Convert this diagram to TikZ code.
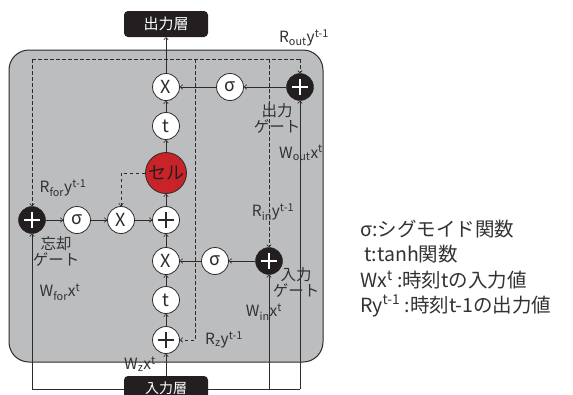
\documentclass[tikz,border=0pt]{standalone}
\usepackage{fontspec}
\setmainfont{Noto Sans CJK JP}
\usetikzlibrary{arrows.meta}
\definecolor{boxgray}{RGB}{188,189,191}
\definecolor{inkc}{RGB}{45,42,43}
\definecolor{layerc}{RGB}{35,31,32}
\definecolor{cellred}{RGB}{200,35,40}
\definecolor{labc}{RGB}{50,50,50}
\tikzset{
  x=1pt, y=-1pt,
  wnode/.style={circle, draw=inkc, fill=white, line width=0.8pt, minimum size=27pt, inner sep=0pt, text=inkc, font=\fontsize{18}{18}\selectfont},
  wplus/.style={wnode, path picture={
      \draw[inkc, line width=1.3pt] ([xshift=-8pt]path picture bounding box.center) -- ([xshift=8pt]path picture bounding box.center);
      \draw[inkc, line width=1.3pt] ([yshift=-8pt]path picture bounding box.center) -- ([yshift=8pt]path picture bounding box.center);}},
  bplus/.style={circle, fill=layerc, draw=layerc, minimum size=27pt, inner sep=0pt, path picture={
      \draw[white, line width=1.8pt] ([xshift=-8pt]path picture bounding box.center) -- ([xshift=8pt]path picture bounding box.center);
      \draw[white, line width=1.8pt] ([yshift=-8pt]path picture bounding box.center) -- ([yshift=8pt]path picture bounding box.center);}},
  cellnode/.style={circle, fill=cellred, draw=inkc, line width=0.8pt, minimum size=41pt, inner sep=0pt, text=layerc, font=\fontsize{18}{18}\selectfont},
  layer/.style={rectangle, rounded corners=4pt, fill=layerc, minimum width=84pt, minimum height=26pt, inner sep=0pt, text=white, font=\fontsize{15}{15}\selectfont},
  arr/.style={-{To[length=3pt,width=5pt]}, draw=inkc, line width=0.6pt},
  dsh/.style={draw=inkc, line width=0.6pt, dash pattern=on 3.5pt off 2.5pt},
  lab/.style={text=labc, font=\fontsize{15.5}{16}\selectfont, inner sep=0pt, align=center},
  legend/.style={text=labc, font=\fontsize{19.5}{20}\selectfont, inner sep=0pt, anchor=west}
}
\begin{document}
\begin{tikzpicture}
\useasboundingbox (0,0) rectangle (573,394);
\fill[white] (0,0) rectangle (573,394);
% gray box
\draw[fill=boxgray, draw=inkc, line width=1pt, rounded corners=20pt] (9,50) rectangle (323,362);

% coordinates
\coordinate (dtl) at (32,59);
\coordinate (dtr) at (300,59);
\coordinate (dm) at (195,59);
\coordinate (dr) at (269,59);
\coordinate (bl) at (32,389);
\coordinate (bm) at (269,389);
\coordinate (br) at (300,389);

% bottom solid line (behind input layer)
\draw[draw=inkc, line width=0.6pt] (bl) -- (br);

% nodes
\node[layer] (outL) at (166,24) {出力層};
\node[wnode] (xo) at (166,87) {X};
\node[wnode] (so) at (230,87) {σ};
\node[bplus] (po) at (300,87) {};
\node[wnode] (to) at (166,126) {t};
\node[cellnode] (cell) at (166,173) {セル};
\node[bplus] (pf) at (32,220) {};
\node[wnode] (sf) at (77,220) {σ};
\node[wnode] (xf) at (121,220) {X};
\node[wplus] (pc) at (166,220) {};
\node[wnode] (xi) at (166,261) {X};
\node[wnode] (si) at (215,261) {σ};
\node[bplus] (pi) at (269,261) {};
\node[wnode] (tz) at (166,300) {t};
\node[wplus] (pz) at (166,340) {};
\node[layer, font=\fontsize{14}{14}\selectfont] (inL) at (166,389) {\raisebox{3pt}{入力層}};

% dashed recurrent lines
\draw[dsh] (dtl) -- (dtr);
\draw[dsh,arr] (dtr) -- (po);
\draw[dsh,arr] (dtl) -- (pf);
\draw[dsh,arr] (dm) |- (pz);
\draw[dsh,arr] (dr) -- (pi);
\draw[dsh,arr] (cell.west) -| (xf);

% solid arrows
\draw[arr] (bl) -- (pf);
\draw[arr] (bm) -- (pi);
\draw[arr] (br) -- (po);
\draw[arr] (inL) -- (pz);
\draw[arr] (pz) -- (tz);
\draw[arr] (tz) -- (xi);
\draw[arr] (xi) -- (pc);
\draw[arr] (pi) -- (si);
\draw[arr] (si) -- (xi);
\draw[arr] (pf) -- (sf);
\draw[arr] (sf) -- (xf);
\draw[arr] (xf) -- (pc);
\draw[arr] (pc) -- (cell);
\draw[arr] (cell) -- (to);
\draw[arr] (to) -- (xo);
\draw[arr] (po) -- (so);
\draw[arr] (so) -- (xo);
\draw[arr] (xo) -- (outL);

% labels
\node[lab] (lRout) at (304,38) {R\textsubscript{out}y\textsuperscript{t-1}};
\node[lab] (lOg) at (277,118) {出力\\ゲート};
\node[lab] (lWout) at (301,153) {W\textsubscript{out}x\textsuperscript{t}};
\node[lab] (lRfor) at (63,188) {R\textsubscript{for}y\textsuperscript{t-1}};
\node[lab] (lFg) at (56,251) {忘却\\ゲート};
\node[lab] (lWfor) at (60,292) {W\textsubscript{for}x\textsuperscript{t}};
\node[lab] (lRin) at (273,212) {R\textsubscript{in}y\textsuperscript{t-1}};
\node[lab] (lIg) at (296,282) {入力\\ゲート};
\node[lab] (lWin) at (264,312) {W\textsubscript{in}x\textsuperscript{t}};
\node[lab] (lRz) at (224,340) {R\textsubscript{z}y\textsuperscript{t-1}};
\node[lab] (lWz) at (140,364) {W\textsubscript{z}x\textsuperscript{t}};

% legend
\node[legend] (g1) at (360,229) {σ:シグモイド関数};
\node[legend] (g2) at (364,254) {t:tanh関数};
\node[legend] (g3) at (360,280) {Wx\textsuperscript{t} :時刻tの入力値};
\node[legend] (g4) at (360,306) {Ry\textsuperscript{t-1} :時刻t-1の出力値};
\end{tikzpicture}
\end{document}
